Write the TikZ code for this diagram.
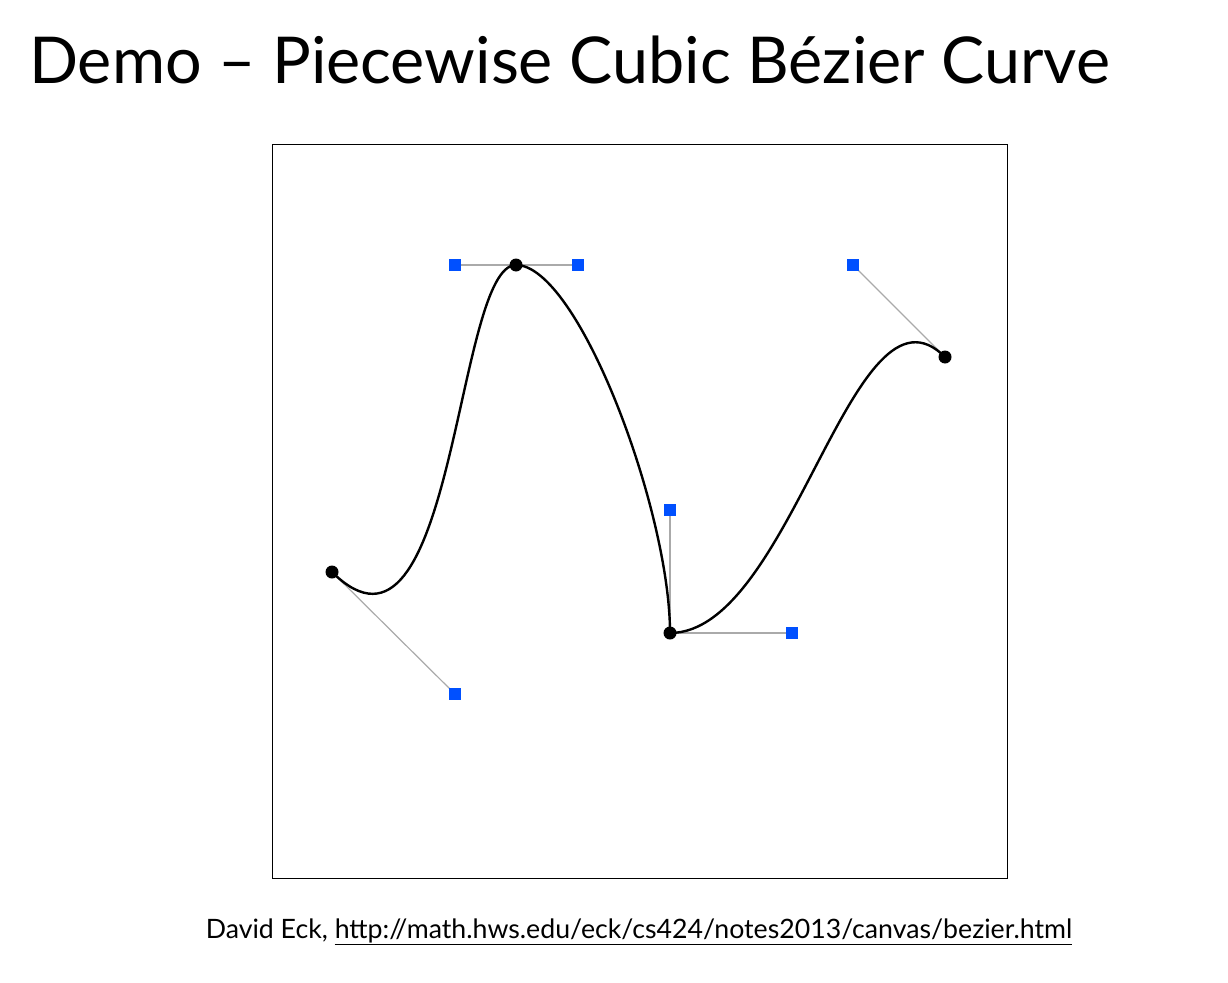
\documentclass[tikz,border=0pt]{standalone}
\usepackage{fontspec}
\setmainfont{Lato}
\definecolor{ctrlblue}{RGB}{0,80,255}
\definecolor{handlegray}{RGB}{170,170,170}
\begin{document}
\begin{tikzpicture}[x=1pt,y=-1pt,
  handle/.style={draw=handlegray,line width=1.2pt},
  curveline/.style={draw=black,line width=2.4pt},
  ctrlpt/.style={fill=ctrlblue,draw=none,minimum size=12pt,inner sep=0pt,rectangle},
  anchorpt/.style={fill=black,draw=none,minimum size=13pt,inner sep=0pt,circle},
  frame/.style={draw=black,line width=1pt}]
\useasboundingbox (0,0) rectangle (1228,982);
% title and caption
\node[anchor=base west,inner sep=0pt,font=\fontsize{64.6}{70}\selectfont] (title) at (29,83) {Demo -- Piecewise Cubic Bézier Curve};
\node[anchor=base,inner sep=0pt,font=\fontsize{26.7}{30}\selectfont] (caption) at (639,938) {David Eck, \underline{http://math.hws.edu/eck/cs424/notes2013/canvas/bezier.html}};
% frame
\node[frame,minimum width=735pt,minimum height=734pt,inner sep=0pt,anchor=north west] (box) at (272,144) {};
% points
\coordinate (p0) at (332,572);
\coordinate (c1) at (455,694);
\coordinate (c2) at (455,265);
\coordinate (p1) at (516,265);
\coordinate (c3) at (578,265);
\coordinate (c4) at (670,510);
\coordinate (p2) at (670,633);
\coordinate (c5) at (792,633);
\coordinate (c6) at (853,265);
\coordinate (p3) at (945,357);
% handles
\draw[handle] (p0) -- (c1);
\draw[handle] (c2) -- (p1) -- (c3);
\draw[handle] (c4) -- (p2) -- (c5);
\draw[handle] (c6) -- (p3);
% curve
\draw[curveline] (p0) .. controls (c1) and (c2) .. (p1)
  .. controls (c3) and (c4) .. (p2)
  .. controls (c5) and (c6) .. (p3);
% markers
\foreach \c in {c1,c2,c3,c4,c5,c6} \node[ctrlpt] (m\c) at (\c) {};
\foreach \p in {p0,p1,p2,p3} \node[anchorpt] (m\p) at (\p) {};
\end{tikzpicture}
\end{document}
